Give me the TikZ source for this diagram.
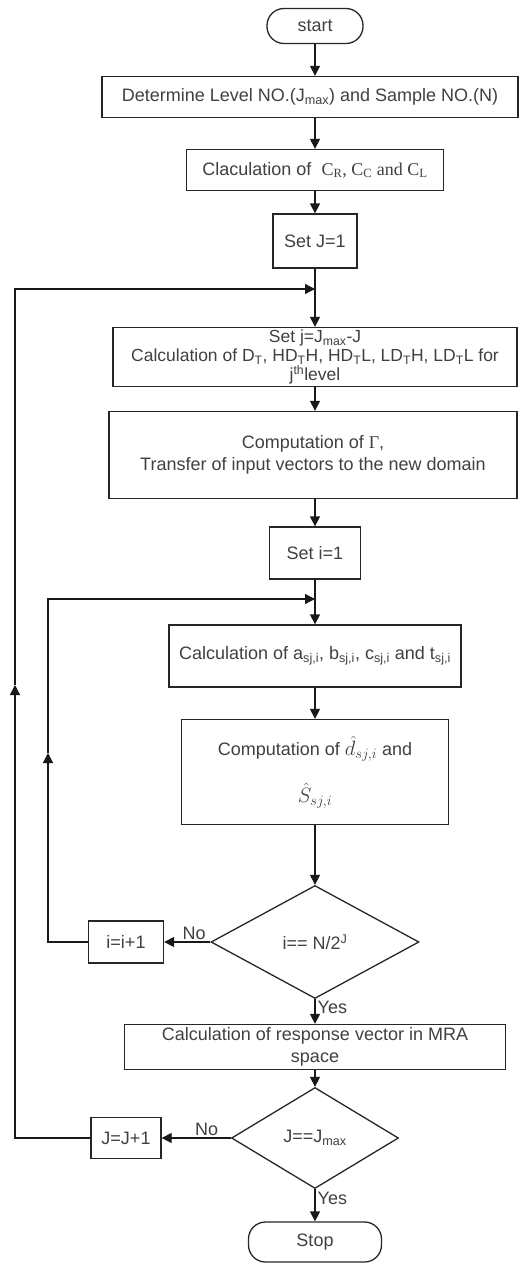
\documentclass[tikz,border=0pt]{standalone}
\usepackage{fontspec}
\setmainfont{Liberation Sans}
\newfontfamily\serifface{Liberation Serif}
\usetikzlibrary{arrows.meta,shapes.geometric}

\tikzset{
  box/.style={draw=black!85, line width=1.3pt, text=black!75, align=center,
    inner sep=0pt, font=\fontsize{18}{22}\selectfont},
  term/.style={box, rounded corners=17pt},
  decide/.style={box, diamond, aspect=1.8},
  flow/.style={line width=1.3pt, draw=black!90, -{Triangle[length=10pt,width=10pt]}},
  lbl/.style={text=black!75, font=\fontsize{18}{22}\selectfont, inner sep=2pt}
}

\begin{document}
\begin{tikzpicture}[x=1pt,y=-1pt]
    \useasboundingbox (0,0) rectangle (520,1263);

    % Boxes
    \node[term, minimum width=96pt, minimum height=35pt] (start) at (315,26) {start};
    \node[box, minimum width=416pt, minimum height=41pt] (levels) at (310,97) {Determine Level NO.(J\textsubscript{max}) and Sample NO.(N)};
    \node[box, minimum width=257pt, minimum height=41pt] (coeffs) at (315,170) {Claculation of \ {\serifface C\textsubscript{R}, C\textsubscript{C} and C\textsubscript{L}}};
    \node[box, minimum width=84pt, minimum height=54pt] (setJ) at (315,241) {Set J=1};
    \node[box, minimum width=404pt, minimum height=59pt, font=\fontsize{17.5}{19}\selectfont] (setj) at (315,357)
      {Set j=J\textsubscript{max}-J\\Calculation of D\textsubscript{T}, HD\textsubscript{T}H, HD\textsubscript{T}L, LD\textsubscript{T}H, LD\textsubscript{T}L for\\j\textsuperscript{th}level};
    \node[box, minimum width=408pt, minimum height=87pt] (gamma) at (313,455) {Computation of {\serifface Γ},\\Transfer of input vectors to the new domain};
    \node[box, minimum width=91pt, minimum height=52pt] (seti) at (315,553) {Set i=1};
    \node[box, minimum width=292pt, minimum height=62pt] (abct) at (315,656) {Calculation of a\textsubscript{sj,i}, b\textsubscript{sj,i}, c\textsubscript{sj,i} and t\textsubscript{sj,i}};
    \node[box, minimum width=267pt, minimum height=105pt] (dhat) at (315,772)
      {Computation of {\fontsize{22}{26}\selectfont$\hat{d}_{sj,i}$} and\\[20pt]{\fontsize{22}{26}\selectfont$\hat{S}_{sj,i}$}};
    \node[decide, minimum width=208pt, minimum height=113pt] (testi) at (315,942) {i== N/2\textsuperscript{J}};
    \node[box, minimum width=75pt, minimum height=42pt] (inci) at (126,942) {i=i+1};
    \node[box, minimum width=381pt, minimum height=45pt] (resp) at (315,1047) {Calculation of response vector in MRA\\space};
    \node[decide, minimum width=167pt, minimum height=101pt] (testJ) at (315,1138) {J==J\textsubscript{max}};
    \node[box, minimum width=70pt, minimum height=41pt] (incJ) at (126,1138) {J=J+1};
    \node[term, minimum width=133pt, minimum height=40pt] (stop) at (315,1242) {Stop};

    % Loop points
    \coordinate (jJoin) at (315,289);
    \coordinate (jLoop) at (15,1138);
    \coordinate (jMid) at (15,685);
    \coordinate (iJoin) at (315,599);
    \coordinate (iLoop) at (48,942);
    \coordinate (iMid) at (48,753);

    % Main flow
    \draw[flow] (start) -- (start |- levels.north);
    \draw[flow] (coeffs |- levels.south) -- (coeffs);
    \draw[flow] (coeffs) -- (setJ);
    \draw[flow] (setJ) -- (setj);
    \draw[flow] (setj) -- (gamma.north -| setj);
    \draw[flow] (gamma.south -| seti) -- (seti);
    \draw[flow] (seti) -- (abct);
    \draw[flow] (abct) -- (dhat);
    \draw[flow] (dhat) -- (testi);
    \draw[flow] (testi) -- node[lbl, right, pos=0.35] {Yes} (resp);
    \draw[flow] (resp) -- (testJ);
    \draw[flow] (testJ) -- node[lbl, right, pos=0.3] {Yes} (stop);

    % Inner loop
    \draw[flow] (testi.west) -- node[lbl, above, pos=0.35] {No} (inci);
    \draw[flow] (inci.west) -- (iLoop) -- (iMid);
    \draw[flow] (iMid) |- (iJoin);

    % Outer loop
    \draw[flow] (testJ.west) -- node[lbl, above, pos=0.35] {No} (incJ);
    \draw[flow] (incJ.west) -- (jLoop) -- (jMid);
    \draw[flow] (jMid) |- (jJoin);

\end{tikzpicture}
\end{document}
